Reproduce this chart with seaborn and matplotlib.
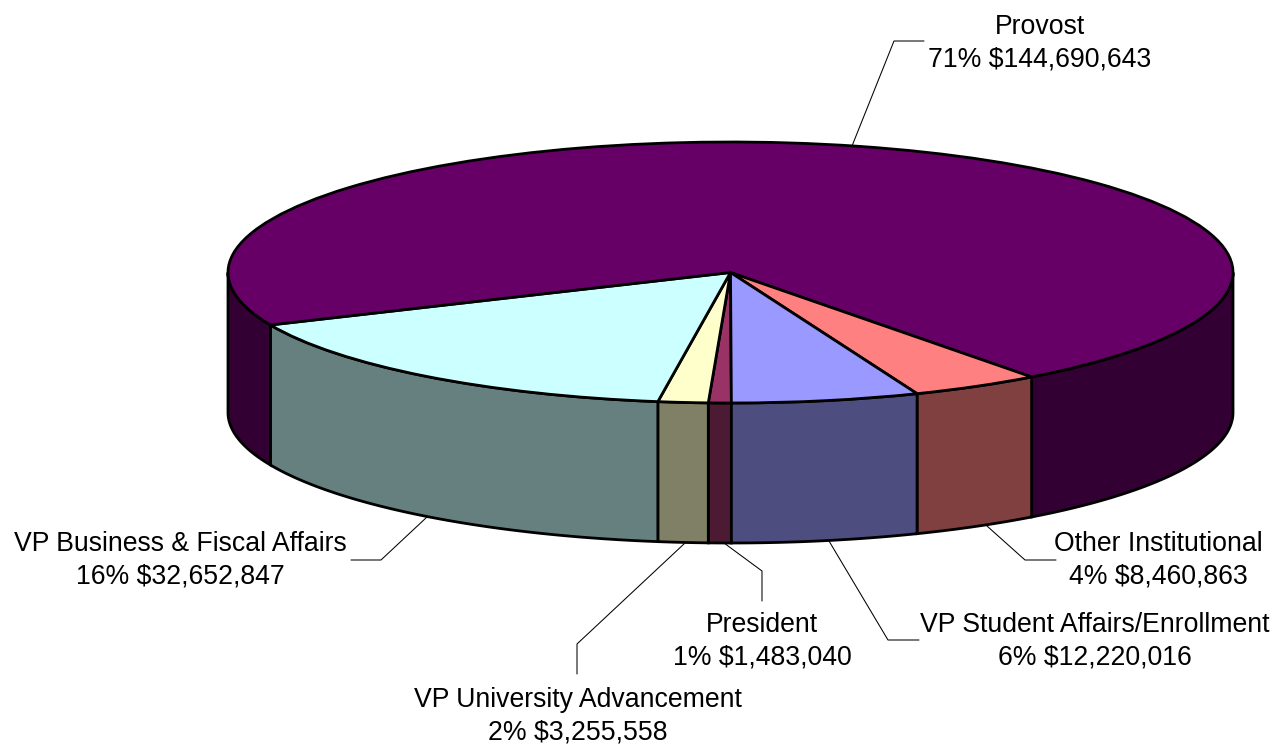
import matplotlib
matplotlib.use("Agg")
import matplotlib.pyplot as plt
import seaborn as sns
import numpy as np

# slices, clockwise from the bottom of the pie
departments = ["President", "VP University Advancement", "VP Business & Fiscal Affairs",
               "Provost", "Other Institutional", "VP Student Affairs/Enrollment"]
budgets = [1483040, 3255558, 32652847, 144690643, 8460863, 12220016]
top_colors = ["#993366", "#FFFFCC", "#CCFFFF", "#660066", "#FF8080", "#9999FF"]

# label centres and leader lines, in image pixels
label_xy = [(762, 641), (578, 716), (180, 560), (1040, 43), (1158, 560), (1095, 641)]
leaders = [
    [(724, 543), (762, 571), (762, 601)],
    [(685, 543), (577, 644), (577, 674)],
    [(427, 517), (381, 560), (351, 560)],
    [(852, 146), (894, 41), (924, 41)],
    [(987, 526), (1025, 560), (1056, 560)],
    [(829, 541), (888, 640), (919, 640)],
]

W, H = 1278, 744
LEFT, RIGHT, TOP, BOTTOM = 228, 1233, 142, 403
DEPTH = 140

sns.set_theme(style="white")
plt.rcParams["font.family"] = ["Liberation Sans", "DejaVu Sans"]

fig = plt.figure(figsize=(W / 100, H / 100), dpi=100, facecolor="white")

# pie axes covers exactly the top ellipse
ax = fig.add_axes([LEFT / W, 1 - BOTTOM / H, (RIGHT - LEFT) / W, (BOTTOM - TOP) / H])
palette = sns.color_palette(top_colors)
wedges, _ = ax.pie(budgets, colors=palette, startangle=270.1, counterclock=False,
                   wedgeprops=dict(edgecolor="black", linewidth=2, zorder=3))
ax.set_aspect("auto")
ax.set_xlim(-1, 1)
ax.set_ylim(-1, 1)

# side walls, only the part on the front half of the ellipse
drop = DEPTH / ((BOTTOM - TOP) / 2)
for wedge, color in zip(wedges, palette):
    side = tuple(c * 0.5 for c in color)
    for w0, w1 in [(-180, 0), (180, 360)]:
        lo, hi = max(wedge.theta1, w0), min(wedge.theta2, w1)
        if hi <= lo:
            continue
        t = np.radians(np.linspace(lo, hi, 120))
        x, y = np.cos(t), np.sin(t)
        ax.fill(np.r_[x, x[::-1]], np.r_[y, y[::-1] - drop], facecolor=side,
                edgecolor="black", linewidth=2, clip_on=False, zorder=2)

# labels and leaders in pixel coordinates
over = fig.add_axes([0, 0, 1, 1], facecolor="none")
over.set_xlim(0, W)
over.set_ylim(H, 0)
over.axis("off")

total = sum(budgets)
for name, amount, (lx, ly), line in zip(departments, budgets, label_xy, leaders):
    px, py = zip(*line)
    over.plot(px, py, color="black", linewidth=0.75)
    over.text(lx, ly, f"{name}\n{round(amount / total * 100)}% ${amount:,}", ha="center",
              va="center", fontsize=19.2, color="black", linespacing=1.34)

fig.savefig("out.png", dpi=100, facecolor="white")
